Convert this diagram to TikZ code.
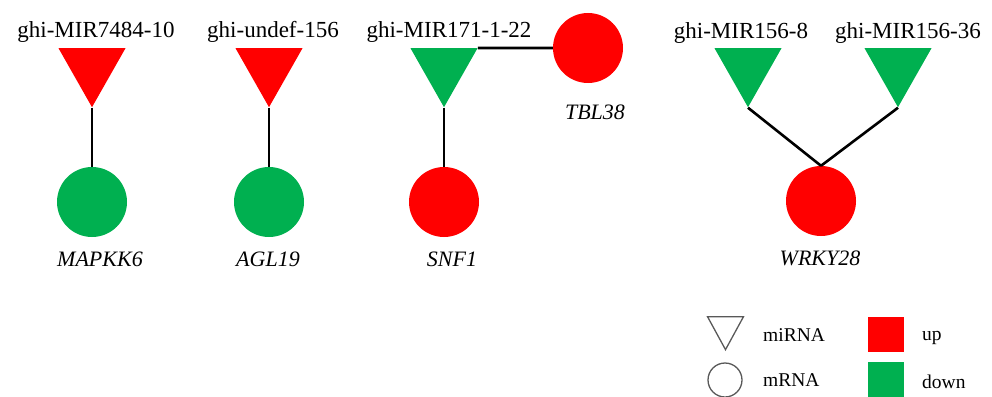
\documentclass[tikz,border=0pt]{standalone}
\usepackage{fontspec}
\setmainfont{Liberation Serif}
\usetikzlibrary{shapes.geometric}
\definecolor{upred}{HTML}{FF0000}
\definecolor{downgreen}{HTML}{00B050}
\begin{document}
\begin{tikzpicture}[x=1pt,y=-1pt,
  mirna/.style={isosceles triangle, shape border rotate=-90, isosceles triangle stretches,
    minimum width=67pt, minimum height=59pt, inner sep=0pt, draw=none, anchor=north},
  mrna/.style={circle, minimum size=70pt, inner sep=0pt, draw=none},
  lab/.style={font=\fontsize{23}{26}\selectfont, inner sep=0pt},
  glab/.style={font=\fontsize{22}{25}\selectfont\itshape, inner sep=0pt},
  leg/.style={font=\fontsize{19.5}{22}\selectfont, inner sep=0pt, anchor=west},
  edge/.style={line width=2.6pt, black}]
\useasboundingbox (0,0) rectangle (992,396);
% miRNAs
\node[mirna, fill=upred] (m1) at (92,48) {};
\node[mirna, fill=upred] (m2) at (269,48) {};
\node[mirna, fill=downgreen] (m3) at (444,48) {};
\node[mirna, fill=downgreen] (m4) at (748,48) {};
\node[mirna, fill=downgreen] (m5) at (898,48) {};
% mRNAs
\node[mrna, fill=downgreen] (g1) at (92,202) {};
\node[mrna, fill=downgreen] (g2) at (269,202) {};
\node[mrna, fill=upred] (g3) at (444,202) {};
\node[mrna, fill=upred] (g4) at (588,48) {};
\node[mrna, fill=upred] (g5) at (821,201) {};
% miRNA labels
\node[lab] (t1) at (96,32) {ghi-MIR7484-10};
\node[lab] (t2) at (273,32) {ghi-undef-156};
\node[lab] (t3) at (449,32) {ghi-MIR171-1-22};
\node[lab] (t4) at (741,33) {ghi-MIR156-8};
\node[lab] (t5) at (908,33) {ghi-MIR156-36};
% mRNA labels
\node[glab] (l1) at (100,259) {MAPKK6};
\node[glab] (l2) at (268,259) {AGL19};
\node[glab] (l3) at (452,259) {SNF1};
\node[glab] (l4) at (595,112) {TBL38};
\node[glab] (l5) at (820,258) {WRKY28};
% edges
\draw[edge] (m1.apex) -- (g1.north);
\draw[edge] (m2.apex) -- (g2.north);
\draw[edge] (m3.apex) -- (g3.north);
\draw[edge] (m3.left corner) -- (g4.west);
\draw[edge] (m4.apex) -- (g5.north);
\draw[edge] (m5.apex) -- (g5.north);
% legend
\node[isosceles triangle, shape border rotate=-90, isosceles triangle stretches,
    minimum width=36pt, minimum height=33pt, inner sep=0pt, anchor=north,
    draw=black!65, line width=1.3pt] (lt) at (725.5,316) {};
\node[circle, minimum size=34pt, inner sep=0pt, draw=black!65, line width=1.3pt] (lc) at (725,380) {};
\node[leg] (ltt) at (763,335) {miRNA};
\node[leg] (lct) at (763,380) {mRNA};
\node[fill=upred, minimum width=36pt, minimum height=35pt, inner sep=0pt, anchor=north west] (lu) at (868,317) {};
\node[fill=downgreen, minimum width=36pt, minimum height=36pt, inner sep=0pt, anchor=north west] (ld) at (868,362) {};
\node[leg] (lut) at (922,338) {up};
\node[leg] (ldt) at (922,382) {down};
\end{tikzpicture}
\end{document}
